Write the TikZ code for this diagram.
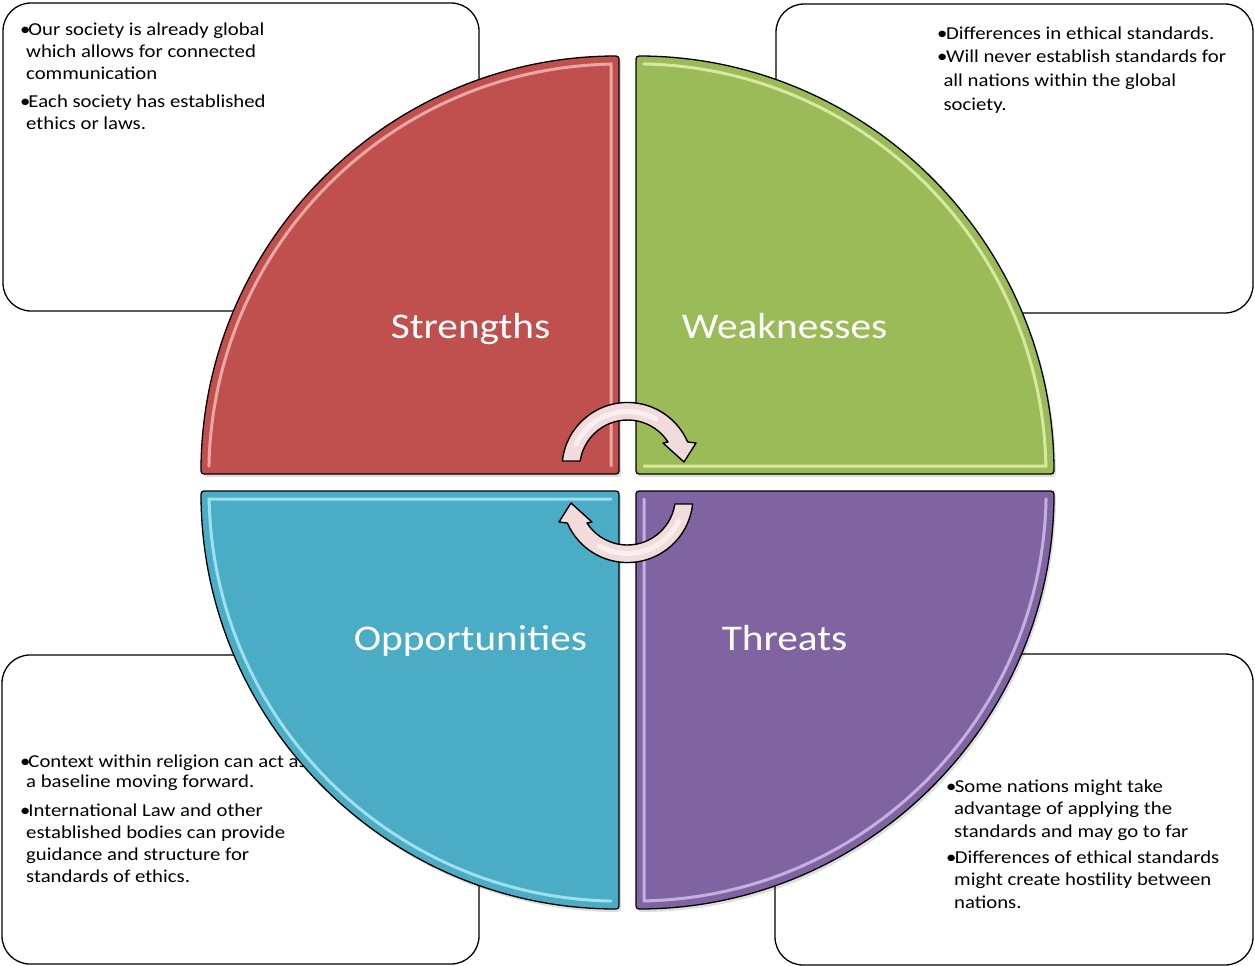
\documentclass[tikz,border=0pt]{standalone}
\usepackage{fontspec}
\setmainfont[FakeStretch=1.14]{Carlito}
\definecolor{qred}{HTML}{C0504D}
\definecolor{qgreen}{HTML}{9BBB59}
\definecolor{qblue}{HTML}{4BACC6}
\definecolor{qpurple}{HTML}{8064A2}
\definecolor{hred}{HTML}{F4BDBB}
\definecolor{hgreen}{HTML}{E6F5B4}
\definecolor{hblue}{HTML}{B4ECF8}
\definecolor{hpurple}{HTML}{D4C4EE}
\definecolor{arrowfill}{HTML}{F2DCDB}
\begin{document}
\begin{tikzpicture}[x=1pt,y=-1pt,
  infobox/.style={draw=black, line width=1.3pt, fill=white, rounded corners=28pt, inner sep=0pt},
  bodytext/.style={anchor=base west, align=left, inner sep=0pt, font=\fontsize{18.2}{22}\selectfont},
  quad/.style={draw=black, line width=1.3pt, rounded corners=3pt},
  qshadow/.style={fill=black, opacity=0.13, rounded corners=3pt},
  hilite/.style={line width=3pt, opacity=0.8, line cap=round},
  lab/.style={anchor=base, text=white, inner sep=0pt, font=\fontsize{36.2}{40}\selectfont},
  cyc/.style={draw=black, line width=1.4pt, fill=arrowfill, line join=round}
]
\useasboundingbox (0,0) rectangle (1255,966);
\fill[white] (0,0) rectangle (1255,966);

% corner boxes
\node[infobox, minimum width=476pt, minimum height=308pt] (tlbox) at (241,157) {};
\node[infobox, minimum width=477pt, minimum height=309pt] (trbox) at (1014.5,158.5) {};
\node[infobox, minimum width=477pt, minimum height=309pt] (blbox) at (240.5,809.5) {};
\node[infobox, minimum width=478pt, minimum height=311pt] (brbox) at (1014,809.5) {};

% box texts (anchored at the baseline of their last line)
\node[bodytext] (tltext) at (20,129) {\makebox[8.3pt][l]{•}Our society is already global\\
\hspace*{6pt}which allows for connected\\
\hspace*{6pt}communication\\[5.6pt]
\makebox[8.3pt][l]{•}Each society has established\\
\hspace*{6pt}ethics or laws.};

\node[bodytext, font=\fontsize{18.2}{23.6}\selectfont] (trtext) at (937,110) {\makebox[9pt][l]{•}Differences in ethical standards.\\
\makebox[9pt][l]{•}Will never establish standards for\\
\hspace*{6.3pt}all nations within the global\\
\hspace*{6.3pt}society.};

\node[bodytext] (bltext) at (20,882.3) {\makebox[8.3pt][l]{•}Context within religion can act as\\[-2.6pt]
\hspace*{6pt}a baseline moving forward.\\[7pt]
\makebox[8.3pt][l]{•}International Law and other\\
\hspace*{6pt}established bodies can provide\\
\hspace*{6pt}guidance and structure for\\
\hspace*{6pt}standards of ethics.};

\node[bodytext, font=\fontsize{18.2}{22.6}\selectfont] (brtext) at (946,908.3) {\makebox[8.6pt][l]{•}Some nations might take\\
\hspace*{8pt}advantage of applying the\\
\hspace*{8pt}standards and may go to far\\[3pt]
\makebox[8.6pt][l]{•}Differences of ethical standards\\
\hspace*{8pt}might create hostility between\\
\hspace*{8pt}nations.};

% shadows
\begin{scope}[shift={(2,3)}]
\fill[qshadow] (619,474) -- (201,474) arc[start angle=180,end angle=270,radius=418] -- cycle;
\fill[qshadow] (636,474) -- (636,56) arc[start angle=270,end angle=360,radius=418] -- cycle;
\fill[qshadow] (619,491) -- (619,909) arc[start angle=90,end angle=180,radius=418] -- cycle;
\fill[qshadow] (636,491) -- (1054,491) arc[start angle=0,end angle=90,radius=418] -- cycle;
\end{scope}

% quadrants
\draw[quad, fill=qred] (619,474) -- (201,474) arc[start angle=180,end angle=270,radius=418] -- cycle;
\draw[quad, fill=qgreen] (636,474) -- (636,56) arc[start angle=270,end angle=360,radius=418] -- cycle;
\draw[quad, fill=qblue] (619,491) -- (619,909) arc[start angle=90,end angle=180,radius=418] -- cycle;
\draw[quad, fill=qpurple] (636,491) -- (1054,491) arc[start angle=0,end angle=90,radius=418] -- cycle;

% bevel highlights
\draw[hilite, hred] (611,466) -- (611,64.1) arc[start angle=268.9,end angle=181.1,radius=410];
\draw[hilite, hgreen] (644,466) -- (1045.9,466) arc[start angle=-1.1,end angle=-88.9,radius=410];
\draw[hilite, hblue] (611,499) -- (209.1,499) arc[start angle=178.9,end angle=91.1,radius=410];
\draw[hilite, hpurple] (644,499) -- (644,900.9) arc[start angle=88.9,end angle=1.1,radius=410];

% labels
\node[lab] (strengths) at (470.5,338) {Strengths};
\node[lab] (weaknesses) at (784.5,338) {Weaknesses};
\node[lab] (opportunities) at (470.5,650) {Opportunities};
\node[lab] (threats) at (784.5,650) {Threats};

% circular arrows
\draw[cyc] (562.4,461) arc[start angle=186.1,end angle=336.6,radius=65.5] -- (696,443) -- (684,462) -- (663,443) -- (668,442) arc[start angle=327.2,end angle=188.4,radius=48] -- cycle;
\draw[white, opacity=0.55, line width=5pt, line cap=round] (627.5,468) ++(205:56.5) arc[start angle=205,end angle=300,radius=56.5];
\begin{scope}[rotate around={180:(627.5,482.5)}]
\draw[cyc] (562.4,461) arc[start angle=186.1,end angle=336.6,radius=65.5] -- (696,443) -- (684,462) -- (663,443) -- (668,442) arc[start angle=327.2,end angle=188.4,radius=48] -- cycle;
\draw[white, opacity=0.55, line width=5pt, line cap=round] (627.5,468) ++(205:56.5) arc[start angle=205,end angle=300,radius=56.5];
\end{scope}
\end{tikzpicture}
\end{document}
